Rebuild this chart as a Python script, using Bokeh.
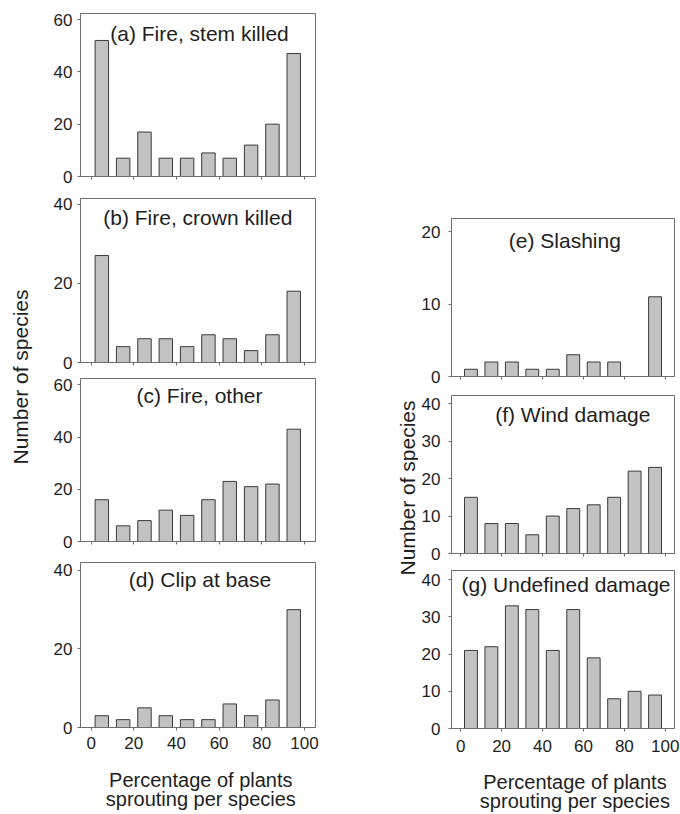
from math import pi
from bokeh.plotting import figure
from bokeh.layouts import row, column
from bokeh.models import Label, FixedTicker
from bokeh.embed import file_html
from bokeh.resources import INLINE

# ---------------- data ----------------
bin_centers = [5, 15, 25, 35, 45, 55, 65, 75, 85, 95]
x_ticks = [0, 20, 40, 60, 80, 100]

fire_stem_killed = [52, 7, 17, 7, 7, 9, 7, 12, 20, 47]
fire_crown_killed = [27, 4, 6, 6, 4, 7, 6, 3, 7, 18]
fire_other = [16, 6, 8, 12, 10, 16, 23, 21, 22, 43]
clip_at_base = [3, 2, 5, 3, 2, 2, 6, 3, 7, 30]
slashing = [1, 2, 2, 1, 1, 3, 2, 2, 0, 11]
wind_damage = [15, 8, 8, 5, 10, 12, 13, 15, 22, 23]
undefined_damage = [21, 22, 33, 32, 21, 32, 19, 8, 10, 9]

titles = ["(a) Fire, stem killed", "(b) Fire, crown killed", "(c) Fire, other",
          "(d) Clip at base", "(e) Slashing", "(f) Wind damage", "(g) Undefined damage"]
y_ticks_60 = [0, 20, 40, 60]
y_ticks_40 = [0, 20, 40]
y_ticks_20 = [0, 10, 20]
y_ticks_40b = [0, 10, 20, 30, 40]

y_title = "Number of species"
x_title_1 = "Percentage of plants"
x_title_2 = "sprouting per species"

FONT = "Liberation Sans"
TXT = "#1e1e1e"
AXC = "#6e6e6e"
BAR_FILL = "#c2c2c2"
BAR_LINE = "#3a3a3a"

TOTAL_H = 814


def panel(values, title, yticks, ymax, xr, width, height, borders,
          title_x, title_dy, show_x, x_standoff, y_standoff):
    top, right, bottom, left = borders
    p = figure(width=width, height=height, x_range=xr, y_range=(0, ymax),
               toolbar_location=None, output_backend="svg",
               min_border_top=top, min_border_right=right,
               min_border_bottom=bottom, min_border_left=left)
    p.vbar(x=bin_centers, top=values, width=6.3, bottom=0,
           fill_color=BAR_FILL, line_color=BAR_LINE, line_width=1)
    p.grid.visible = False
    p.outline_line_color = AXC
    p.outline_line_width = 1
    p.background_fill_color = "white"
    p.border_fill_color = "white"

    for ax in (p.xaxis[0], p.yaxis[0]):
        ax.axis_line_color = AXC
        ax.major_tick_line_color = AXC
        ax.major_tick_in = 0
        ax.major_tick_out = 3
        ax.minor_tick_line_color = None
        ax.major_label_text_font = FONT
        ax.major_label_text_font_size = "17px"
        ax.major_label_text_color = TXT

    p.yaxis.ticker = FixedTicker(ticks=yticks)
    p.yaxis.major_label_standoff = y_standoff
    p.xaxis.ticker = FixedTicker(ticks=x_ticks)
    if show_x:
        p.xaxis.major_label_standoff = x_standoff
    else:
        p.xaxis.major_label_overrides = {t: "" for t in x_ticks}
        p.xaxis.major_label_text_font_size = "0px"
        p.xaxis.major_label_standoff = 0

    p.add_layout(Label(x=title_x, y=ymax, y_offset=-(title_dy - 7.3), text=title,
                       text_align="center", text_baseline="middle",
                       text_font=FONT, text_font_size="21px", text_color=TXT))
    return p


def blank(width, height):
    p = figure(width=width, height=height, x_range=(0, width), y_range=(0, height),
               toolbar_location=None, output_backend="svg",
               x_axis_type=None, y_axis_type=None, min_border=0)
    p.grid.visible = False
    p.outline_line_color = None
    return p


def ylabel_fig(width, x, y_from_top):
    p = blank(width, TOTAL_H)
    p.add_layout(Label(x=x, y=TOTAL_H - y_from_top, text=y_title, angle=pi / 2,
                       text_align="center", text_baseline="middle",
                       text_font=FONT, text_font_size="21px", text_color=TXT))
    return p


def xtitle_fig(width, height, x, y1, y2):
    p = blank(width, height)
    for txt, y in ((x_title_1, y1), (x_title_2, y2)):
        p.add_layout(Label(x=x, y=y, text=txt, text_align="center",
                           text_baseline="middle", text_font=FONT,
                           text_font_size="20px", text_color=TXT))
    return p


XL = (-5.0, 105.2)
XR = (-4.5, 104.5)
LW = 334
RW = 262

# left column (figure tops: 0, 189, 372, 551, 760)
pa = panel(fire_stem_killed, titles[0], y_ticks_60, 62.3, XL, LW, 189, (13, 57, 13, 42),
           50.8, 27.7, False, 0, 5)
pb = panel(fire_crown_killed, titles[1], y_ticks_40, 41.4, XL, LW, 183, (9, 57, 10, 42),
           50.0, 26, False, 0, 5)
pc = panel(fire_other, titles[2], y_ticks_60, 62.4, XL, LW, 179, (6, 57, 10, 42),
           50.8, 24, False, 0, 5)
pd = panel(clip_at_base, titles[3], y_ticks_40, 42.0, XL, LW, 209, (11, 57, 33, 42),
           51.0, 24, True, 6, 5)
xt_left = xtitle_fig(LW, 54, 171, 34.3, 16)

# right column (figure tops: 0, 386, 565, 760)
pe = panel(slashing, titles[4], y_ticks_20, 21.8, XR, RW, 386, (218, 6, 10, 32),
           50.9, 29, False, 0, 8)
pf = panel(wind_damage, titles[5], y_ticks_40b, 42.2, XR, RW, 179, (9, 6, 12, 32),
           54.8, 26.7, False, 0, 8)
pg = panel(undefined_damage, titles[6], y_ticks_40b, 42.5, XR, RW, 195, (5, 6, 32, 32),
           51.5, 21.7, True, 8, 8)
xt_right = xtitle_fig(RW, 54, 145, 33, 14)

lab_left = ylabel_fig(38, 20, 376.5)
lab_right = ylabel_fig(46, 35, 487.5)

layout = row(lab_left, column(pa, pb, pc, pd, xt_left),
             lab_right, column(pe, pf, pg, xt_right))

open("out.html", "w").write(file_html(layout, INLINE))
